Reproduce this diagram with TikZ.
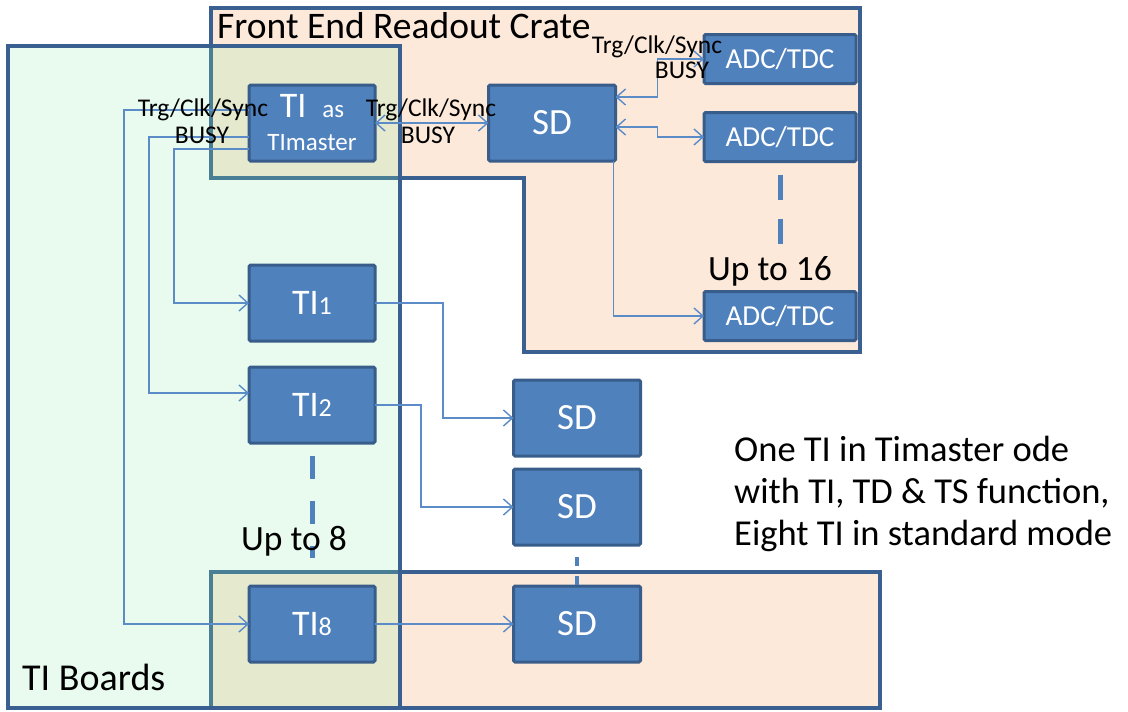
\documentclass[tikz,border=0pt]{standalone}
\usepackage{fontspec}
\setmainfont{Carlito}
\usetikzlibrary{arrows.meta}

\definecolor{boxblue}{HTML}{4F81BD}
\definecolor{boxedge}{HTML}{385D8A}
\definecolor{frameedge}{HTML}{3A6092}
\definecolor{crate}{HTML}{FDE9D9}
\definecolor{board}{HTML}{E8FBEE}
\definecolor{overlap}{HTML}{E5E9CD}
\definecolor{edgemix}{HTML}{4A7E94}
\definecolor{wire}{HTML}{5B8CC8}

\begin{document}
\begin{tikzpicture}[x=1pt,y=-1pt,
    unit/.style={draw=boxedge, fill=boxblue, line width=3pt, rounded corners=1.5pt,
      text=white, inner sep=0pt, outer sep=0pt},
    tibox/.style={unit, minimum width=126pt, minimum height=76pt, font=\fontsize{36}{36}\selectfont},
    sdbox/.style={unit, minimum width=127pt, minimum height=76pt, font=\fontsize{37}{37}\selectfont},
    adcbox/.style={unit, minimum width=152pt, minimum height=49pt, font=\fontsize{29}{29}\selectfont},
    link/.style={draw=wire, line width=1.4pt, >={Straight Barb[length=9pt,width=16pt]}},
    sig/.style={font=\fontsize{25.5}{25.5}\selectfont, inner sep=0pt},
    tag/.style={font=\fontsize{35.5}{42}\selectfont, inner sep=0pt},
    frame/.style={draw=frameedge, line width=4pt},
    ellip/.style={draw=boxblue, line width=5pt}]
  \useasboundingbox (0,0) rectangle (1128,712);

  % crates and board area
  \fill[crate] (211,8) -- (860,8) -- (860,352) -- (524,352) -- (524,178) -- (211,178) -- cycle;
  \fill[crate] (211,572) rectangle (880,708);
  \fill[board] (8,46) rectangle (400,708);
  \fill[overlap] (211,46) rectangle (400,178) (211,572) rectangle (400,708);
  \draw[frame] (211,8) -- (860,8) -- (860,352) -- (524,352) -- (524,178) -- (211,178) -- cycle;
  \draw[frame] (211,572) rectangle (880,708);
  \begin{scope}
    \clip (8,46) rectangle (400,708);
    \draw[frame, draw=edgemix] (211,8) -- (860,8) -- (860,352) -- (524,352) -- (524,178) -- (211,178) -- cycle;
    \draw[frame, draw=edgemix] (211,572) rectangle (880,708);
  \end{scope}
  \draw[frame] (8,46) rectangle (400,708);

  \node[tag, font=\fontsize{37.5}{42}\selectfont, anchor=base west] (fertitle) at (217,38) {Front End Readout Crate};
  \node[tag, font=\fontsize{38}{42}\selectfont, anchor=base west] (boards) at (22,690) {TI Boards};

  % boards
  \node[tibox, align=center] (tim) at (312,123)
    {TI\hspace{16pt}{\fontsize{25}{25}\selectfont as}\\[-3pt]{\fontsize{25}{25}\selectfont TImaster}};
  \node[sdbox] (sdA) at (552,123) {SD};
  \node[adcbox] (adc1) at (780,59) {ADC/TDC};
  \node[adcbox] (adc2) at (780,137) {ADC/TDC};
  \node[adcbox] (adc3) at (780,316) {ADC/TDC};
  \node[tibox] (ti1) at (312,303) {TI{\fontsize{26}{26}\selectfont 1}};
  \node[tibox] (ti2) at (312,405) {TI{\fontsize{26}{26}\selectfont 2}};
  \node[tibox] (ti8) at (312,624) {TI{\fontsize{26}{26}\selectfont 8}};
  \node[sdbox] (sd1) at (577,418) {SD};
  \node[sdbox] (sd2) at (577,507) {SD};
  \node[sdbox] (sd3) at (577,624) {SD};

  % signal lines
  \draw[link, ->] ([yshift=13pt]tim.west) -- ++(-125,0) |- (ti8.west);
  \draw[link, ->] ([yshift=-14pt]tim.west) -- ++(-100,0) |- ([yshift=12pt]ti2.west);
  \draw[link, ->] ([yshift=-26pt]tim.west) -- ++(-75,0) |- (ti1.west);
  \draw[link, <->] (tim.east) -- (sdA.west);
  \draw[link, <->] ([yshift=26pt]sdA.east) -- ++(42,0) |- (adc1.west);
  \draw[link, <->] ([yshift=-4pt]sdA.east) -- ++(42,0) |- (adc2.west);
  \draw[link, ->] ([xshift=-2pt]sdA.south east) |- (adc3.west);
  \draw[link, ->] (ti1.east) -- ++(68,0) |- (sd1.west);
  \draw[link, ->] (ti2.east) -- ++(46,0) |- (sd2.west);
  \draw[link, ->] (ti8.east) -- (sd3.west);

  % "up to" marks
  \draw[ellip, dash pattern=on 25pt off 19pt] ([yshift=-13pt]adc2.south) -- ([yshift=45pt]adc3.north);
  \draw[ellip, dash pattern=on 23pt off 22pt] ([yshift=-13pt]ti2.south) -- ([yshift=28pt]ti8.north);
  \draw[ellip, line width=4pt, dash pattern=on 9pt off 10pt] ([yshift=-12pt]sd2.south) -- (sd3.north);
  \node[tag, anchor=base west] (upA) at (708,280) {Up to 16};
  \node[tag, anchor=base west] (upB) at (241,550) {Up to 8};

  % signal labels
  \node[sig] (trgL) at (203,110) {Trg/Clk/Sync};
  \node[sig] (busyL) at (202,135) {BUSY};
  \node[sig] (trgM) at (431,110) {Trg/Clk/Sync};
  \node[sig] (busyM) at (428,135) {BUSY};
  \node[sig] (trgR) at (657,47) {Trg/Clk/Sync};
  \node[sig] (busyR) at (682,70) {BUSY};

  \node[tag, font=\fontsize{36.5}{42}\selectfont, anchor=north west, align=left] (note) at (734,436)
    {One TI in Timaster ode\\with TI, TD \& TS function,\\Eight TI in standard mode};
\end{tikzpicture}
\end{document}
